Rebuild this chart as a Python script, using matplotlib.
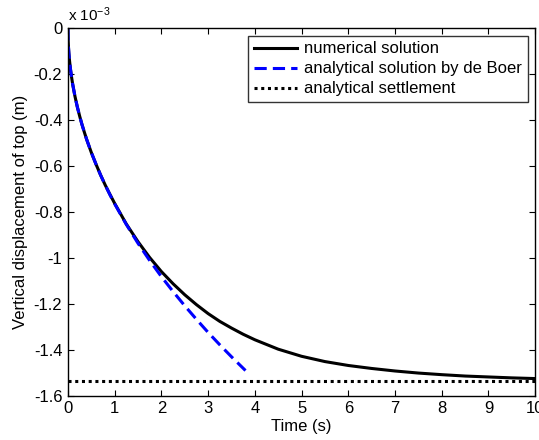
import matplotlib
matplotlib.use("Agg")
import matplotlib.pyplot as plt

plt.rcParams["font.family"] = ["Liberation Sans", "DejaVu Sans"]
plt.rcParams["mathtext.fontset"] = "custom"
plt.rcParams["mathtext.rm"] = "Liberation Sans"
plt.rcParams["mathtext.it"] = "Liberation Sans:italic"
plt.rcParams["axes.unicode_minus"] = False

# time (s) and top displacement (x 1e-3 m)
t_num = [0, 0.005, 0.01, 0.02, 0.03, 0.05, 0.075, 0.1, 0.15, 0.2, 0.25, 0.3, 0.35,
         0.4, 0.5, 0.6, 0.7, 0.8, 0.9, 1.0, 1.25, 1.5, 1.75, 2.0, 2.25, 2.5, 2.75,
         3.0, 3.25, 3.5, 3.75, 4.0, 4.5, 5.0, 5.5, 6.0, 6.5, 7.0, 7.5, 8.0, 8.5,
         9.0, 9.5, 10.0]
u_num = [0, -0.054, -0.076, -0.108, -0.132, -0.171, -0.209, -0.242, -0.296, -0.342,
         -0.382, -0.419, -0.452, -0.484, -0.541, -0.592, -0.640, -0.684, -0.724,
         -0.763, -0.853, -0.930, -0.999, -1.060, -1.113, -1.161, -1.204, -1.243,
         -1.277, -1.306, -1.333, -1.357, -1.398, -1.429, -1.452, -1.469, -1.482,
         -1.493, -1.502, -1.509, -1.515, -1.519, -1.523, -1.526]

t_boer = [0, 0.005, 0.01, 0.02, 0.03, 0.05, 0.075, 0.1, 0.15, 0.2, 0.25, 0.3, 0.35,
          0.4, 0.5, 0.6, 0.7, 0.8, 0.9, 1.0, 1.25, 1.5, 1.75, 2.0, 2.25, 2.5, 2.75,
          3.0, 3.25, 3.5, 3.8]
u_boer = [0, -0.054, -0.076, -0.108, -0.132, -0.171, -0.209, -0.242, -0.296, -0.342,
          -0.382, -0.419, -0.452, -0.484, -0.541, -0.592, -0.640, -0.684, -0.726,
          -0.765, -0.855, -0.937, -1.012, -1.082, -1.147, -1.209, -1.268, -1.325,
          -1.379, -1.431, -1.491]

settlement = -1.535
x_ticks = [0, 1, 2, 3, 4, 5, 6, 7, 8, 9, 10]
y_ticks = [0, -0.2, -0.4, -0.6, -0.8, -1.0, -1.2, -1.4, -1.6]
y_labels = ["0", "-0.2", "-0.4", "-0.6", "-0.8", "-1", "-1.2", "-1.4", "-1.6"]

fig = plt.figure(figsize=(5.39, 4.40), dpi=100)
ax = fig.add_axes([0.126, 0.101, 0.867, 0.835])

ax.plot(t_num, u_num, color="black", lw=2.2, label="numerical solution")
ax.plot(t_boer, u_boer, color="#0000ff", lw=2.2, dashes=(4, 2),
        label="analytical solution by de Boer")
ax.plot([0, 10], [settlement, settlement], color="black", lw=2.2, dashes=(1, 1.2),
        label="analytical settlement")

ax.set_xlim(0, 10)
ax.set_ylim(-1.6, 0)
ax.set_xticks(x_ticks)
ax.set_yticks(y_ticks)
ax.set_yticklabels(y_labels)
ax.tick_params(direction="in", length=4, width=0.8, labelsize=12,
               top=True, right=True, pad=4)
for s in ax.spines.values():
    s.set_linewidth(1.0)

ax.set_xlabel("Time (s)", fontsize=12, labelpad=2)
ax.set_ylabel("Vertical displacement of top (m)", fontsize=12, labelpad=4)
ax.text(0.0, 1.012, r"x 10$^{-3}$", transform=ax.transAxes, fontsize=11,
        ha="left", va="bottom")

leg = ax.legend(loc="upper right", fontsize=12, frameon=True, fancybox=False,
                edgecolor="black", handlelength=2.6, handletextpad=0.4,
                labelspacing=0.3, borderpad=0.35, borderaxespad=0.45)
leg.get_frame().set_linewidth(1.0)

fig.savefig("out.png", dpi=100)
